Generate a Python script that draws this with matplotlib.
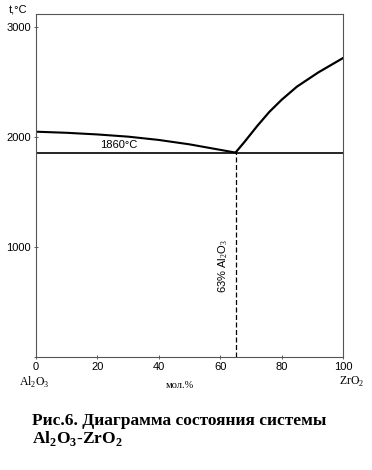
import matplotlib
matplotlib.use("Agg")
import matplotlib.pyplot as plt

# Al2O3-ZrO2 phase diagram
left_x = [0, 10, 20, 30, 40, 50, 58, 65]
left_t = [2050, 2040, 2025, 2005, 1975, 1935, 1895, 1860]
right_x = [65, 68, 72, 76, 80, 85, 92, 100]
right_t = [1860, 1960, 2100, 2230, 2340, 2460, 2590, 2720]
eutectic_x = 65
eutectic_t = 1860
x_ticks = [0, 20, 40, 60, 80, 100]
y_ticks = [0, 1000, 2000, 3000]

plt.rcParams['font.family'] = ['Liberation Sans', 'DejaVu Sans']
plt.rcParams['mathtext.fontset'] = 'custom'
plt.rcParams['mathtext.rm'] = 'Liberation Serif'
plt.rcParams['mathtext.bf'] = 'Liberation Serif:bold'

fig = plt.figure(figsize=(3.72, 4.70), dpi=100)
ax = fig.add_axes([0.0968, 0.2404, 0.8252, 0.7296])

ax.plot(left_x, left_t, color='black', lw=1.5)
ax.plot(right_x, right_t, color='black', lw=1.6)
ax.axhline(eutectic_t, color='black', lw=1.2)
ax.plot([eutectic_x, eutectic_x], [0, eutectic_t], color='black', lw=0.9, ls=(0, (4, 2)))

ax.set_xlim(0, 100)
ax.set_ylim(0, 3120)
ax.set_xticks(x_ticks)
ax.set_yticks(y_ticks)
ax.set_yticklabels(['', '1000', '2000', '3000'])
ax.set_xticklabels([str(v) for v in x_ticks])
ax.tick_params(direction='inout', length=3, width=0.6, labelsize=8, color='#444444', pad=2)
for s in ax.spines.values():
    s.set_color('#555555')
    s.set_linewidth(0.8)

ax.text(0.27, eutectic_t + 20, '1860°C', ha='center', va='bottom', fontsize=8,
        transform=ax.get_yaxis_transform())
ax.text(eutectic_x - 4, 830, '63% Al$_2$O$_3$', rotation=90, ha='center', va='center', fontsize=8)

fig.text(18 / 372, 1 - 9 / 470, 't,°C', ha='center', va='center', fontsize=8)
fig.text(34 / 372, 1 - 382 / 470, 'Al$_2$O$_3$', ha='center', va='center', fontsize=8.5,
         family='Liberation Serif')
fig.text(352 / 372, 1 - 382 / 470, 'ZrO$_2$', ha='center', va='center', fontsize=8.5,
         family='Liberation Serif')
fig.text(180 / 372, 1 - 385 / 470, 'мол.%', ha='center', va='center', fontsize=7.5,
         family='Liberation Serif')

fig.text(32 / 372, 1 - 421 / 470, 'Рис.6. Диаграмма состояния системы', ha='left', va='center',
         fontsize=12.5, fontweight='bold', family='Liberation Serif')
fig.text(32 / 372, 1 - 438 / 470, r'Al$_\mathbf{2}$O$_\mathbf{3}$-ZrO$_\mathbf{2}$', ha='left',
         va='center', fontsize=12.5, fontweight='bold', family='Liberation Serif')

fig.savefig('out.png', dpi=100)
